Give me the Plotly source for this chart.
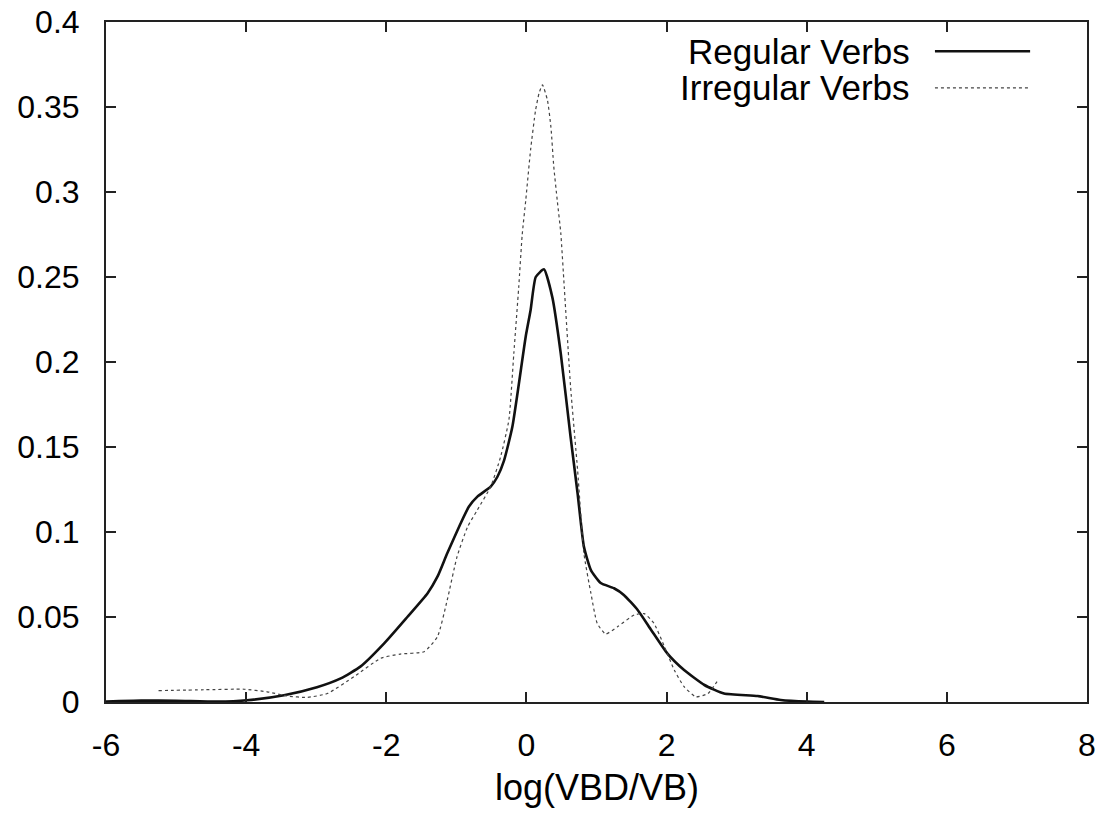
import plotly.graph_objects as go

# Regular verbs density (solid)
reg_x = [-6.0, -5.5, -5.0, -4.41, -3.99, -3.46, -2.99, -2.65, -2.37, -2.03, -1.70, -1.41, -1.27,
         -1.13, -0.94, -0.82, -0.70, -0.51, -0.414, -0.32, -0.2, -0.01, 0.06, 0.133, 0.25, 0.37,
         0.49, 0.63, 0.73, 0.82, 0.92, 1.06, 1.25, 1.39, 1.59, 1.78, 2.01, 2.25, 2.54, 2.82, 3.30,
         3.63, 4.01, 4.25]
reg_y = [0.0003, 0.0008, 0.0007, 0.0002, 0.001, 0.004, 0.0087, 0.0139, 0.0208, 0.0345, 0.050,
         0.064, 0.0737, 0.0875, 0.105, 0.115, 0.1208, 0.1267, 0.1325, 0.142, 0.162, 0.215, 0.2306,
         0.250, 0.2545, 0.238, 0.205, 0.156, 0.1228, 0.0914, 0.0776, 0.070, 0.0669, 0.063, 0.054,
         0.0424, 0.0286, 0.0188, 0.010, 0.005, 0.0035, 0.0012, 0.0002, 0.0]

# Irregular verbs density (dashed)
irr_x = [-5.25, -4.6, -4.03, -3.70, -3.41, -3.13, -2.84, -2.46, -2.08, -1.80, -1.46, -1.27, -1.13,
         -0.99, -0.84, -0.70, -0.51, -0.37, -0.25, -0.18, -0.11, -0.06, -0.01, 0.06, 0.13, 0.18,
         0.229, 0.30, 0.35, 0.39, 0.44, 0.49, 0.54, 0.63, 0.73, 0.82, 0.92, 1.01, 1.13, 1.30, 1.54,
         1.68, 1.82, 1.97, 2.11, 2.25, 2.42, 2.59, 2.72]
irr_y = [0.0067, 0.0072, 0.0075, 0.006, 0.0035, 0.0027, 0.005, 0.0149, 0.0257, 0.0282, 0.0296,
         0.0384, 0.060, 0.0855, 0.103, 0.113, 0.1267, 0.144, 0.166, 0.205, 0.244, 0.275, 0.295,
         0.325, 0.348, 0.358, 0.363, 0.354, 0.338, 0.315, 0.295, 0.276, 0.244, 0.1855, 0.1365,
         0.0875, 0.064, 0.0463, 0.040, 0.0443, 0.0512, 0.052, 0.0463, 0.0325, 0.0188, 0.009, 0.003,
         0.005, 0.012]

series_names = ["Regular Verbs", "Irregular Verbs"]
x_ticks = [-6, -4, -2, 0, 2, 4, 6, 8]
x_tick_text = ["-6", "-4", "-2", "0", "2", "4", "6", "8"]
y_ticks = [0, 0.05, 0.1, 0.15, 0.2, 0.25, 0.3, 0.35, 0.4]
y_tick_text = ["0", "0.05", "0.1", "0.15", "0.2", "0.25", "0.3", "0.35", "0.4"]
x_label = "log(VBD/VB)"

FONT = "Liberation Sans, Arial, Helvetica, sans-serif"

fig = go.Figure()
fig.add_trace(go.Scatter(x=reg_x, y=reg_y, mode="lines", name=series_names[0],
                         line=dict(color="#111111", width=2.6, shape="spline", smoothing=0.5),
                         showlegend=False))
fig.add_trace(go.Scatter(x=irr_x, y=irr_y, mode="lines", name=series_names[1],
                         line=dict(color="#444444", width=1.2, dash="3px,3px", shape="spline", smoothing=0.5),
                         showlegend=False))

axis_common = dict(
    showline=True, linecolor="#222222", linewidth=2, mirror="ticks",
    ticks="inside", ticklen=10, tickwidth=1.6, tickcolor="#222222",
    showgrid=False, zeroline=False, automargin=False, ticklabeloverflow="allow",
    tickfont=dict(family=FONT, size=32, color="black"),
)

fig.update_xaxes(range=[-6, 8], tickvals=x_ticks, ticktext=x_tick_text, ticklabelstandoff=14,
                 **axis_common)
fig.update_yaxes(range=[0, 0.4], tickvals=y_ticks, ticktext=y_tick_text, ticklabelstandoff=18,
                 **axis_common)

# X-axis title
fig.add_annotation(x=0.5, y=-0.126, xref="paper", yref="paper", text=x_label,
                   showarrow=False, xanchor="center", yanchor="middle",
                   font=dict(family=FONT, size=36, color="black"))

# Legend (text right-aligned, sample line to the right)
legend_rows = [(0.957, dict(color="#111111", width=2.6)),
               (0.903, dict(color="#444444", width=1.2, dash="3px,3px"))]
for name, (yy, ln) in zip(series_names, legend_rows):
    fig.add_annotation(x=0.822, y=yy, xref="paper", yref="paper", text=name,
                       showarrow=False, xanchor="right", yanchor="middle",
                       font=dict(family=FONT, size=35, color="black"))
    fig.add_shape(type="line", xref="paper", yref="paper", x0=0.845, x1=0.942, y0=yy, y1=yy, line=ln)

fig.update_layout(
    width=1096, height=814,
    margin=dict(l=106, r=9, t=22, b=112),
    paper_bgcolor="white", plot_bgcolor="white",
    font=dict(family=FONT, color="black"),
)

fig.write_html("out.html",
               config={"displayModeBar": False},
               post_script="document.body.style.margin='0px';document.body.style.overflow='hidden';")
